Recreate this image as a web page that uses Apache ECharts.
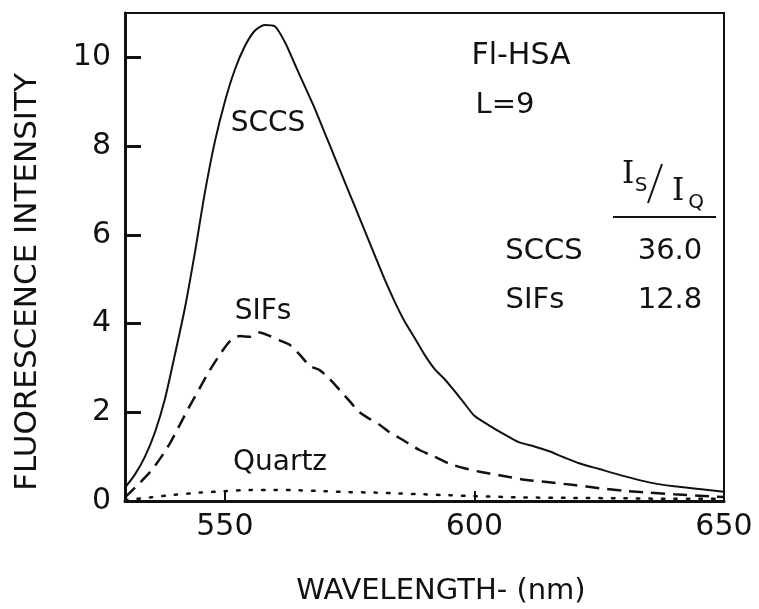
<!DOCTYPE html>
<html>
<head>
<meta charset="utf-8">
<script src="https://cdn.jsdelivr.net/npm/echarts@6/dist/echarts.min.js"></script>
<style>
html,body{margin:0;padding:0;background:#fff;}
#chart{width:759px;height:609px;}
</style>
</head>
<body>
<div id="chart"></div>
<script>
// wavelength (nm) / intensity
var sccsWl=[530,532,534,536,538,540,542,544,546,548,550,552,554,556,558,560,562,564,566,568,570,572,574,576,578,580,582,584,586,588,590,592,594,596,598,600,603,606,609,612,615,618,621,625,630,635,640,645,650];
var sccsVal=[0.3,0.6,1.0,1.55,2.3,3.3,4.35,5.6,6.95,8.1,9.0,9.72,10.25,10.6,10.73,10.7,10.35,9.85,9.35,8.85,8.3,7.75,7.2,6.65,6.1,5.55,5.0,4.5,4.05,3.68,3.3,2.98,2.75,2.48,2.2,1.92,1.7,1.5,1.32,1.23,1.12,0.98,0.85,0.72,0.56,0.42,0.33,0.27,0.21];

var sifsWl=[530,532,535,537,539,541,543,545,547,549,551,553,555,557,559,561,563,565,567,569,571,573,575,577,579,581,583,585,589,592,595,598,601,605,610,615,620,625,630,635,640,645,650];
var sifsVal=[0.08,0.3,0.65,0.95,1.3,1.72,2.15,2.55,2.95,3.3,3.6,3.72,3.7,3.8,3.72,3.62,3.52,3.3,3.05,2.95,2.75,2.5,2.25,2.0,1.85,1.72,1.55,1.42,1.15,1.0,0.84,0.74,0.66,0.58,0.48,0.42,0.36,0.29,0.23,0.19,0.15,0.12,0.09];

var quartzWl=[530,535,540,545,550,555,560,565,570,575,580,585,590,595,600,610,620,630,640,650];
var quartzVal=[0.02,0.08,0.14,0.19,0.22,0.25,0.25,0.24,0.22,0.2,0.19,0.17,0.15,0.13,0.11,0.08,0.07,0.06,0.05,0.05];

var xTicks=[550,600,650];
var yTicks=[0,2,4,6,8,10];

var tableRows=["SCCS","SIFs"];
var tableRatios=["36.0","12.8"];

function pairs(xs,ys){
	var out=[];
	for(var i=0;i<xs.length;i++){
		out.push([xs[i],ys[i]]);
	}
	return out;
}

var FONT="DejaVu Sans";
var INK="#111";

function txt(s,x,y,size,extra){
	var st={text:s,font:(size||28)+"px '"+FONT+"'",fill:INK,align:"center",verticalAlign:"middle"};
	var el={type:"text",x:x,y:y,style:st,z:10};
	if(extra){
		for(var k in extra){
			if(k=="rotation"){el.rotation=extra[k];}else{st[k]=extra[k];}
		}
	}
	return el;
}

var chart=echarts.init(document.getElementById("chart"));

var option={
	backgroundColor:"#fff",
	animation:false,
	grid:{left:125,right:35,top:13,bottom:108,show:true,borderColor:INK,borderWidth:2,backgroundColor:"transparent"},
	xAxis:{
		type:"value",min:530,max:650,
		axisLine:{show:true,onZero:false,lineStyle:{color:INK,width:3}},
		axisTick:{show:true,inside:true,length:10,customValues:xTicks,lineStyle:{color:INK,width:2}},
		axisLabel:{customValues:xTicks,color:INK,fontFamily:FONT,fontSize:30,margin:11},
		splitLine:{show:false}
	},
	yAxis:{
		type:"value",min:0,max:11,
		axisLine:{show:true,onZero:false,lineStyle:{color:INK,width:3}},
		axisTick:{show:true,inside:true,length:16,customValues:yTicks,lineStyle:{color:INK,width:3}},
		axisLabel:{customValues:yTicks,color:INK,fontFamily:FONT,fontSize:30,margin:14},
		splitLine:{show:false}
	},
	series:[
		{
			name:"SCCS",type:"line",data:pairs(sccsWl,sccsVal),
			smooth:0.25,showSymbol:false,
			lineStyle:{color:INK,width:2}
		},
		{
			name:"SIFs",type:"line",data:pairs(sifsWl,sifsVal),
			smooth:0.25,showSymbol:false,
			lineStyle:{color:INK,width:2.5,type:[14,8]}
		},
		{
			name:"Quartz",type:"line",data:pairs(quartzWl,quartzVal),
			smooth:0.25,showSymbol:false,
			lineStyle:{color:INK,width:2.5,type:[2.5,10],cap:"round"}
		}
	],
	graphic:[
		txt("SCCS",268,124),
		txt("SIFs",263,312),
		txt("Quartz",280,463),
		txt("Fl-HSA",521,56,30),
		txt("L=9",505,105,29),
		// I_S / I_Q header
		txt("I",628,175,31,{font:"31px 'DejaVu Serif'"}),
		txt("S",641,186,20),
		{type:"line",shape:{x1:648,y1:203,x2:662,y2:164},style:{stroke:INK,lineWidth:2},z:10},
		txt("I",678,192,31,{font:"31px 'DejaVu Serif'"}),
		txt("Q",696,203,20),
		{type:"line",shape:{x1:613,y1:217,x2:716,y2:217},style:{stroke:INK,lineWidth:2},z:10},
		txt(tableRows[0],544,251,29),
		txt(tableRatios[0],670,251,29),
		txt(tableRows[1],535,300,29),
		txt(tableRatios[1],670,300,29),
		txt("WAVELENGTH- (nm)",441,591,29),
		txt("FLUORESCENCE INTENSITY",28,282,31,{rotation:Math.PI/2})
	]
};

chart.setOption(option);
</script>
</body>
</html>
